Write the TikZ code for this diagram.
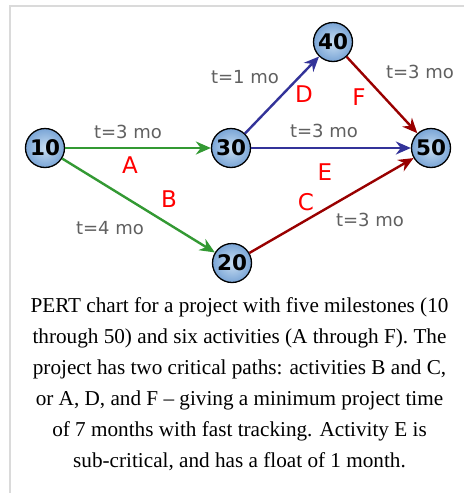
\documentclass[tikz,border=0pt]{standalone}
\usepackage{fontspec}
\setmainfont{Liberation Serif}
\newfontfamily\labfont{DejaVu Sans}
\usetikzlibrary{arrows.meta}
\definecolor{ggreen}{HTML}{339933}
\definecolor{gblue}{HTML}{333399}
\definecolor{gred}{HTML}{990000}
\definecolor{lgray}{HTML}{606060}
\definecolor{frame}{HTML}{DADADA}
\begin{document}
\begin{tikzpicture}[x=1pt,y=-1pt,
  milestone/.style={circle, draw=black, line width=1.3pt, minimum size=39pt, inner sep=0pt,
    inner color={rgb,255:red,200;green,222;blue,242}, outer color={rgb,255:red,122;green,165;blue,214},
    font=\labfont\bfseries\fontsize{21.5}{22}\selectfont},
  act/.style={line width=2.4pt, -{Stealth[length=15pt,width=13pt]}},
  dur/.style={text=lgray, font=\labfont\fontsize{18}{20}\selectfont, inner sep=0pt},
  letter/.style={text=red, font=\labfont\fontsize{23}{23}\selectfont, inner sep=0pt},
  caption/.style={align=center, font=\fontsize{21.2}{31}\selectfont, inner sep=0pt}]
\useasboundingbox (0,0) rectangle (464,493);
\fill[white] (0,0) rectangle (464,493);
\draw[frame, line width=2pt] (10,493) -- (10,6) -- (464,6);
\node[milestone] (n10) at (45,148) {10};
\node[milestone] (n30) at (231,148) {30};
\node[milestone] (n40) at (333,42) {40};
\node[milestone] (n50) at (431,148) {50};
\node[milestone] (n20) at (232,263) {20};
\draw[act, ggreen] (n10) -- (n30);
\draw[act, ggreen] (n10) -- (n20);
\draw[act, gblue] (n30) -- (n40);
\draw[act, gblue] (n30) -- (n50);
\draw[act, gred] (n40) -- (n50);
\draw[act, gred] (n20) -- (n50);
\node[dur] (tA) at (128,132) {t=3 mo};
\node[dur] (tD) at (245,77) {t=1 mo};
\node[dur] (tF) at (420,72) {t=3 mo};
\node[dur] (tE) at (324,131) {t=3 mo};
\node[dur] (tB) at (110,228) {t=4 mo};
\node[dur] (tC) at (370,220) {t=3 mo};
\node[letter] (lA) at (130,165) {A};
\node[letter] (lB) at (169,199) {B};
\node[letter] (lC) at (306,202) {C};
\node[letter] (lD) at (304,94) {D};
\node[letter] (lE) at (325,172) {E};
\node[letter] (lF) at (359,97) {F};
\node[caption] (cap) at (239.5,384.5) {PERT chart for a project with five milestones (10\\through 50) and six activities (A through F). The\\project has two critical paths: activities B and C,\\or A, D, and F -- giving a minimum project time\\of 7 months with fast tracking. Activity E is\\sub-critical, and has a float of 1 month.};
\end{tikzpicture}
\end{document}
